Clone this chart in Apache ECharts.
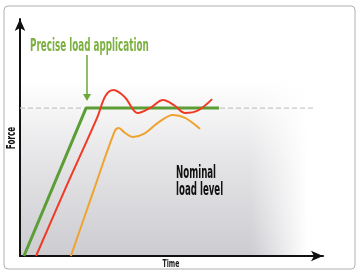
<!DOCTYPE html>
<html><head><meta charset="utf-8">
<script src="https://cdn.jsdelivr.net/npm/echarts@6/dist/echarts.min.js"></script>
<style>html,body{margin:0;padding:0;background:#fff}#c{width:363px;height:277px}</style>
</head><body><div id="c"></div>
<script>
// Time (x) / force (y) values, abstract units 0..100
var nominalLevel = 62.4;
var dashedRange = [0, 97.4];
var greenX = [1.3, 21.8, 65.7];
var greenY = [0, 62.4, 62.4];
var redX = [5.3, 15, 25.5, 28.2, 30.9, 34.6, 38.9, 43, 47.2, 51, 54.5, 58.6, 63.4];
var redY = [0, 28.5, 58.5, 67.5, 70, 67, 60.3, 62.5, 65.8, 63.5, 60.3, 61.3, 66.2];
var orangeX = [16.8, 24, 31.2, 32.6, 34.6, 37.3, 41, 45.5, 50.5, 54.5, 59.4];
var orangeY = [0, 26.5, 52.5, 54, 52, 50.2, 51.6, 56.2, 59.5, 58.3, 53.6];
var texts = {title: 'Precise load application', nominal1: 'Nominal', nominal2: 'load level', yName: 'Force', xName: 'Time'};

function pts(xs, ys){ return xs.map(function(x,i){return [x, ys[i]];}); }
var FONT = '"DejaVu Sans Condensed","Roboto",sans-serif';
function label(txt, x, y, size, color, sx, align, rot){
  return {type:'text', x:x, y:y, scaleX:sx, rotation:rot||0, z:20,
    style:{text:txt, fontFamily:FONT, fontSize:size, fontWeight:'bold', fill:color,
      textAlign:align||'left', textVerticalAlign:'middle'}};
}
var chart = echarts.init(document.getElementById('c'), null, {renderer:'canvas'});
chart.setOption({
  animation:false,
  grid:{left:20,right:40,top:19,bottom:21},
  xAxis:{type:'value',min:0,max:100,splitLine:{show:false},axisTick:{show:false},axisLabel:{show:false},
    axisLine:{lineStyle:{color:'#111',width:2},symbol:['none','arrow'],symbolSize:[8,12]}},
  yAxis:{type:'value',min:0,max:100,splitLine:{show:false},axisTick:{show:false},axisLabel:{show:false},
    axisLine:{lineStyle:{color:'#111',width:2},symbol:['none','arrow'],symbolSize:[8,12]}},
  graphic:[
    {type:'rect',z:-10,shape:{x:4,y:6,width:351,height:263,r:4},style:{fill:'#fff',stroke:'#b0b0b0',lineWidth:1}},
    {type:'rect',z:-9,shape:{x:20,y:80,width:310,height:176},
      style:{fill:new echarts.graphic.LinearGradient(0,0,0,1,[{offset:0,color:'rgba(208,208,212,0)'},{offset:0.5,color:'rgba(208,208,212,0.6)'},{offset:1,color:'rgba(204,204,209,1)'}])}},
    {type:'rect',z:-8,shape:{x:250,y:20,width:82,height:245},
      style:{fill:new echarts.graphic.LinearGradient(0,0,1,0,[{offset:0,color:'rgba(255,255,255,0)'},{offset:0.7,color:'rgba(255,255,255,1)'},{offset:1,color:'rgba(255,255,255,1)'}])}},
    label(texts.title, 30, 47, 17, '#7cb041', 0.575),
    {type:'line',shape:{x1:87,y1:55,x2:87,y2:96},style:{stroke:'#6aa83a',lineWidth:1.5}},
    {type:'polygon',shape:{points:[[83,94],[91,94],[87,101]]},style:{fill:'#6aa83a'}},
    label(texts.nominal1, 176, 174, 17, '#111', 0.565),
    label(texts.nominal2, 176, 191, 17, '#111', 0.565),
    label(texts.yName, 12, 138, 12, '#111', 0.67, 'center', Math.PI/2),
    label(texts.xName, 171, 264, 11, '#222', 0.62, 'center')
  ],
  series:[
    {type:'line',data:[[dashedRange[0],nominalLevel],[dashedRange[1],nominalLevel]],symbol:'none',z:1,
      lineStyle:{color:'#c8c8c8',width:1.2,type:[5,3]}},
    {type:'line',data:pts(orangeX,orangeY),symbol:'none',smooth:0.35,lineStyle:{color:'#f0a22e',width:2}},
    {type:'line',data:pts(greenX,greenY),symbol:'none',z:3,lineStyle:{color:'#5c9e35',width:3}},
    {type:'line',data:pts(redX,redY),symbol:'none',smooth:0.35,z:4,lineStyle:{color:'#f03a24',width:2}}
  ]
});
</script></body></html>
